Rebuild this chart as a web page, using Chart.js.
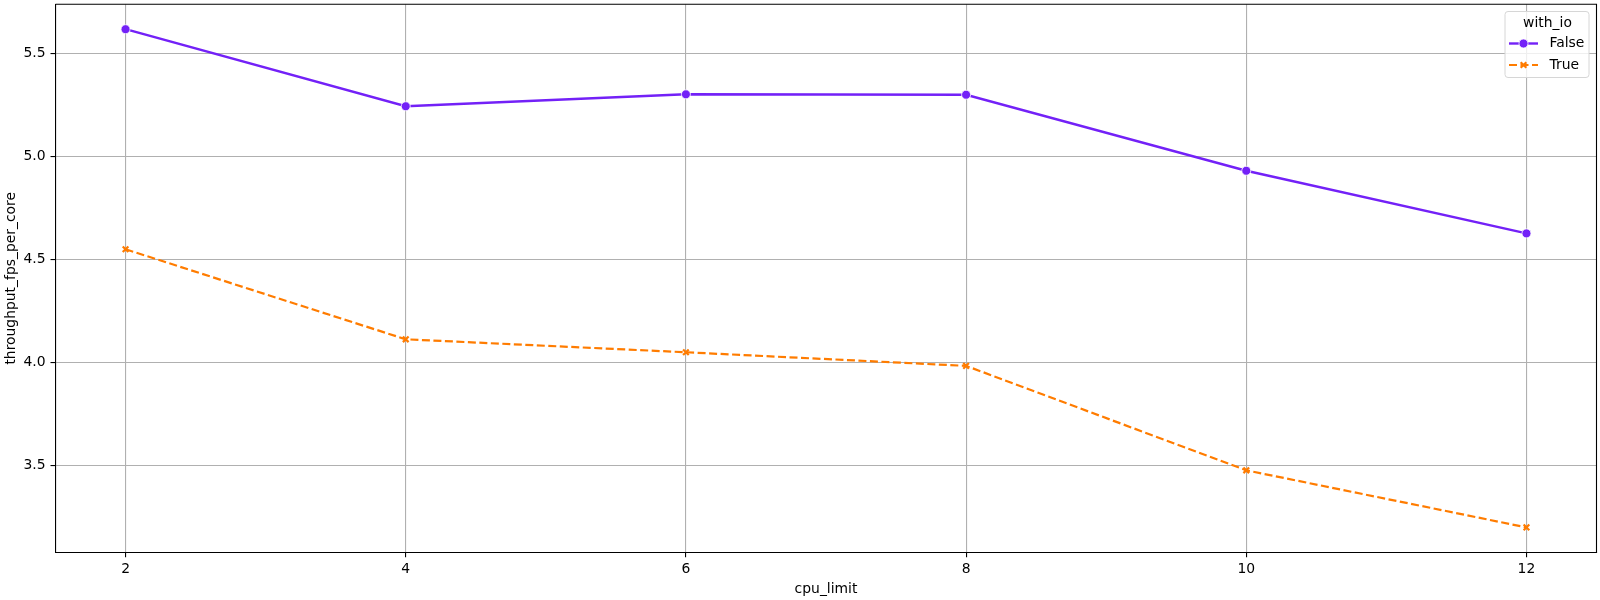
<!DOCTYPE html>
<html lang="en">
<head>
    <meta charset="UTF-8">
    <title>throughput per core</title>
    <style>
        body {
            margin: 0;
            background-color: #ffffff;
        }

        .chart-box {
            width: 1600px;
            height: 600px;
        }
    </style>
</head>
<body>
    <div class="chart-box">
        <canvas id="chartContainer"></canvas>
    </div>
    <script src="https://cdn.jsdelivr.net/npm/chart.js@4.4.0/dist/chart.umd.min.js"></script>
    <script>
        // values
        const cpuLimits = [2, 4, 6, 8, 10, 12];
        const fpsNoIo = [5.617, 5.243, 5.301, 5.299, 4.930, 4.626];
        const fpsWithIo = [4.549, 4.112, 4.049, 3.983, 3.476, 3.199];
        const xTicks = [2, 4, 6, 8, 10, 12];
        const yTicks = [3.5, 4.0, 4.5, 5.0, 5.5];
        const seriesNames = ["False", "True"];
        const legendTitle = "with_io";

        const purple = "#7321f7";
        const orange = "#ff7c00";
        const font = "'DejaVu Sans', sans-serif";
        const fontSize = 13.9;

        // matplotlib style 5% margins around the data
        function padRange(vals) {
            let lo = Math.min(...vals), hi = Math.max(...vals);
            let m = (hi - lo) * 0.05;
            return [lo - m, hi + m];
        }
        const xRange = padRange(cpuLimits);
        const yRange = padRange(fpsNoIo.concat(fpsWithIo));

        const toPoints = (ys) => cpuLimits.map((x, i) => ({ x: x, y: ys[i] }));

        // top + right spines and the in-plot legend
        const framePlugin = {
            id: "frame",
            afterDraw(chart) {
                const c = chart.ctx;
                const a = chart.chartArea;
                c.save();
                c.strokeStyle = "#000";
                c.lineWidth = 1.1;
                c.beginPath();
                c.moveTo(a.left, a.top);
                c.lineTo(a.right, a.top);
                c.lineTo(a.right, a.bottom);
                c.stroke();

                // legend box
                const bx = 1505, by = 11.5, bw = 84, bh = 66, r = 3;
                c.beginPath();
                c.moveTo(bx + r, by);
                c.arcTo(bx + bw, by, bx + bw, by + bh, r);
                c.arcTo(bx + bw, by + bh, bx, by + bh, r);
                c.arcTo(bx, by + bh, bx, by, r);
                c.arcTo(bx, by, bx + bw, by, r);
                c.closePath();
                c.fillStyle = "rgba(255,255,255,0.8)";
                c.fill();
                c.strokeStyle = "#d6d6d6";
                c.lineWidth = 1;
                c.stroke();

                c.fillStyle = "#000";
                c.font = fontSize + "px " + font;
                c.textBaseline = "middle";
                c.textAlign = "center";
                c.fillText(legendTitle, 1547.5, 23.5);

                c.textAlign = "left";
                const rows = [43.5, 65];
                chart.data.datasets.forEach((ds, i) => {
                    const y = rows[i];
                    c.strokeStyle = ds.borderColor;
                    c.lineWidth = ds.borderWidth;
                    c.setLineDash(ds.borderDash || []);
                    c.beginPath();
                    c.moveTo(1509, y);
                    c.lineTo(1538, y);
                    c.stroke();
                    c.setLineDash([]);
                    c.fillStyle = ds.pointBackgroundColor;
                    c.strokeStyle = ds.pointBorderColor;
                    c.lineWidth = ds.pointBorderWidth;
                    Chart.helpers.drawPoint(c, {
                        pointStyle: ds.pointStyle,
                        radius: ds.pointRadius,
                        borderWidth: ds.pointBorderWidth,
                        rotation: 0
                    }, 1523.5, y);
                    c.fillStyle = "#000";
                    c.fillText(ds.label, 1549.5, y);
                });
                c.restore();
            }
        };

        const ctx = document.getElementById("chartContainer");
        const mainChart = new Chart(ctx, {
            type: "line",
            data: {
                datasets: [
                    {
                        label: seriesNames[0],
                        data: toPoints(fpsNoIo),
                        borderColor: purple,
                        backgroundColor: purple,
                        borderWidth: 2.4,
                        pointStyle: "circle",
                        pointRadius: 4.5,
                        pointBorderColor: "#ffffff",
                        pointBorderWidth: 0.8,
                        pointBackgroundColor: purple,
                        tension: 0
                    },
                    {
                        label: seriesNames[1],
                        data: toPoints(fpsWithIo),
                        borderColor: orange,
                        backgroundColor: orange,
                        borderWidth: 2.2,
                        borderDash: [8, 3.5],
                        pointStyle: "crossRot",
                        pointRadius: 4,
                        pointBorderColor: orange,
                        pointBorderWidth: 2.2,
                        pointBackgroundColor: orange,
                        tension: 0
                    }
                ]
            },
            options: {
                responsive: true,
                maintainAspectRatio: false,
                animation: false,
                layout: {
                    autoPadding: false,
                    padding: { top: 4.3, right: 3.5, bottom: 0, left: 0 }
                },
                plugins: {
                    legend: { display: false },
                    tooltip: { enabled: false }
                },
                scales: {
                    x: {
                        type: "linear",
                        min: xRange[0],
                        max: xRange[1],
                        afterBuildTicks: (s) => { s.ticks = xTicks.map(v => ({ value: v })); },
                        afterFit: (s) => {
                            s.height = 47.7;
                            s.paddingLeft = 0;
                            s.paddingRight = 0;
                        },
                        ticks: {
                            color: "#000",
                            padding: 4,
                            font: { family: font, size: fontSize },
                            callback: (v) => String(v)
                        },
                        grid: {
                            color: "#b0b0b0",
                            lineWidth: 1.1,
                            tickLength: 5,
                            tickColor: "#000"
                        },
                        border: { display: true, color: "#000", width: 1.1 },
                        title: {
                            display: true,
                            text: "cpu_limit",
                            color: "#000",
                            padding: { top: 0, bottom: 2.5 },
                            font: { family: font, size: fontSize }
                        }
                    },
                    y: {
                        type: "linear",
                        min: yRange[0],
                        max: yRange[1],
                        afterBuildTicks: (s) => { s.ticks = yTicks.map(v => ({ value: v })); },
                        afterFit: (s) => {
                            s.width = 55.5;
                            s.paddingTop = 0;
                            s.paddingBottom = 0;
                        },
                        ticks: {
                            color: "#000",
                            padding: 5,
                            font: { family: font, size: fontSize },
                            callback: (v) => Number(v).toFixed(1)
                        },
                        grid: {
                            color: "#b0b0b0",
                            lineWidth: 1.1,
                            tickLength: 5,
                            tickColor: "#000"
                        },
                        border: { display: true, color: "#000", width: 1.1 },
                        title: {
                            display: true,
                            text: "throughput_fps_per_core",
                            color: "#000",
                            padding: { top: 2.6, bottom: 0 },
                            font: { family: font, size: fontSize }
                        }
                    }
                }
            },
            plugins: [framePlugin]
        });
    </script>
</body>
</html>
